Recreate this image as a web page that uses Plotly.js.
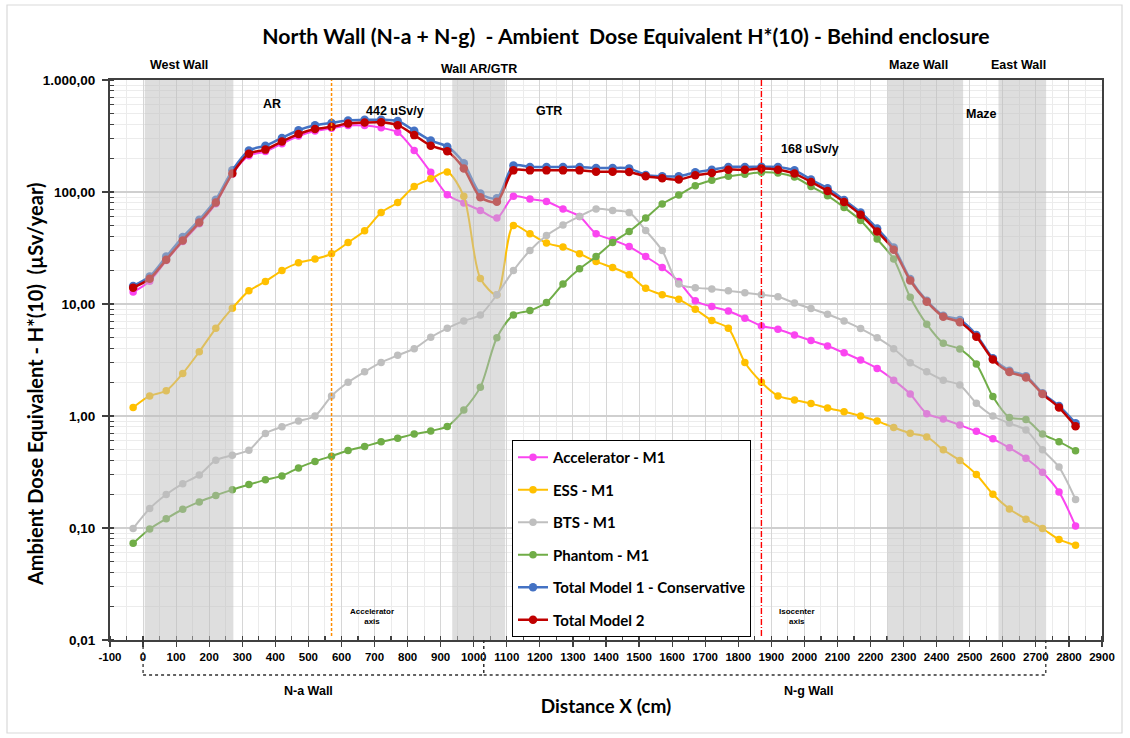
<!DOCTYPE html>
<html>
<head>
<meta charset="utf-8">
<script src="https://cdn.plot.ly/plotly-3.0.1.min.js"></script>
<style>
  html, body { margin: 0; padding: 0; background: #ffffff; }
  #chart { width: 1130px; height: 738px; }
</style>
</head>
<body>
<div id="chart"></div>
<script>
// ---------------- DATA ----------------
const distance = [-30,20,70,120,170,220,270,320,370,420,470,520,570,620,670,720,770,820,870,920,970,1020,1070,1120,1170,1220,1270,1320,1370,1420,1470,1520,1570,1620,1670,1720,1770,1820,1870,1920,1970,2020,2070,2120,2170,2220,2270,2320,2370,2420,2470,2520,2570,2620,2670,2720,2770,2820];

const accelerator = [12.8,16.0,24.4,36.1,52,78.6,145,211,230,270,316,350,371,392,392,374,341,235,150,94.6,79.8,68.5,58.5,91.4,86.5,82.4,70.5,60.5,42.4,37.4,32.6,26.5,21.2,15.9,10.7,9.48,8.67,7.46,6.37,5.95,5.29,4.71,4.22,3.67,3.16,2.66,2.09,1.57,1.05,0.94,0.83,0.73,0.625,0.52,0.42,0.315,0.21,0.104];

const ess = [1.19,1.51,1.68,2.40,3.75,6.07,9.17,13.1,15.9,19.9,23.3,25.2,28.1,35.4,45.1,65.7,80.7,112,131,151,91.4,16.9,12.1,50.3,42.4,35.0,32.2,28.1,23.9,21.2,18.2,13.8,12.1,11.0,8.98,7.11,6.07,3.0,2.0,1.51,1.39,1.29,1.18,1.09,1.0,0.90,0.79,0.70,0.65,0.50,0.40,0.30,0.20,0.148,0.12,0.099,0.079,0.070];

const bts = [0.099,0.149,0.199,0.249,0.298,0.403,0.447,0.495,0.698,0.80,0.90,1.0,1.51,2.0,2.48,3.01,3.48,3.99,5.05,6.07,7.06,7.99,12.1,19.9,30,40.9,50.7,60.5,70.5,68.5,65.7,45.4,30,15.1,14.0,13.6,13.1,12.6,12.1,11.6,10.2,9.1,8.1,7.06,6.03,5.0,3.99,2.99,2.48,2.09,1.89,1.30,1.0,0.86,0.75,0.50,0.35,0.18];

const phantom = [0.073,0.098,0.121,0.147,0.171,0.195,0.220,0.244,0.269,0.292,0.344,0.393,0.438,0.492,0.535,0.588,0.634,0.689,0.736,0.807,1.13,1.81,5.0,7.99,8.73,10.3,15.1,20.6,26.5,35.4,44.4,58.5,78.2,94,114,127,138,144,150,148,136,112,92.7,72.8,55.7,38,25.2,11.5,6.6,4.46,3.96,2.91,1.49,0.97,0.93,0.69,0.59,0.49];

const totalModel1 = [14.5,17.6,26.5,39.6,56.5,85.3,156,235,259,304,356,394,414,434,441,442,430,353,288,254,181,97,88,172,167.5,167.5,167.5,167.5,164,164,162.5,142,138,138,150,158,167.5,167.5,168,167.5,156,129,108,85,65.7,47.2,32,16.7,10.7,7.87,7.21,5.29,3.27,2.54,2.27,1.60,1.23,0.863];

const totalModel2 = [14.0,16.8,24.8,36.9,53.5,80.7,146,220,239,282,329,365,382,408,417,419,395,322,259,231,162,89.8,81.9,156,156,156,156,156,152,152,151,138,133,129,141,148,158,158,162,158,146,123,102,81.4,62.6,44.4,30.5,16.2,10.5,7.71,6.87,5.11,3.19,2.47,2.21,1.57,1.19,0.81];

const seriesNames = ['Accelerator - M1','ESS - M1','BTS - M1','Phantom - M1','Total Model 1 - Conservative','Total Model 2'];

const xTickVals = [-100,0,100,200,300,400,500,600,700,800,900,1000,1100,1200,1300,1400,1500,1600,1700,1800,1900,2000,2100,2200,2300,2400,2500,2600,2700,2800,2900];
const xTickText = ['-100','0','100','200','300','400','500','600','700','800','900','1000','1100','1200','1300','1400','1500','1600','1700','1800','1900','2000','2100','2200','2300','2400','2500','2600','2700','2800','2900'];
const yTickVals = [0.01, 0.1, 1, 10, 100, 1000];
const yTickText = ['0,01','0,10','1,00','10,00','100,00','1.000,00'];

// wall zones (cm) and reference axes (cm)
const wallZones = [[5,273],[935,1095],[2250,2480],[2587,2731]];
const acceleratorAxisX = 570;
const isocenterAxisX = 1870;
const naWall = [0,1030];
const ngWall = [1030,2730];

// ---------------- LAYOUT HELPERS ----------------
const W = 1130, H = 738;
const M = {l:110, r:28, t:80, b:98};
const PW = W - M.l - M.r, PH = H - M.t - M.b;
const px2x = p => (p - M.l) / PW;          // pixel -> paper x
const py2y = p => (M.t + PH - p) / PH;     // pixel -> paper y

const colors = ['#FA45F0','#FFC000','#BFBFBF','#70AD47','#4472C4','#C00000'];
const allY = [accelerator, ess, bts, phantom, totalModel1, totalModel2];

const traces = allY.map((yy, i) => ({
  type: 'scatter',
  mode: 'lines+markers',
  x: distance,
  y: yy,
  name: seriesNames[i],
  legendgroup: 'g' + i,
  line: {color: colors[i], width: i >= 4 ? 2.5 : 2, shape: 'spline', smoothing: 0.8},
  marker: {color: colors[i], size: i >= 4 ? 8.5 : 7.5}
}));

const labelFont = {family: 'Liberation Sans, Arial, sans-serif', size: 12.5, color: '#000', weight: 'bold'};
const smallFont = {family: 'Liberation Sans, Arial, sans-serif', size: 8, color: '#000', weight: 'bold'};

function lab(text, px, py, font) {
  return {text, xref: 'paper', yref: 'paper', x: px2x(px), y: py2y(py),
          xanchor: 'center', yanchor: 'middle', showarrow: false, font: font || labelFont};
}

const annotations = [
  lab('West Wall', 179, 65),
  lab('Wall AR/GTR', 479, 69),
  lab('Maze Wall', 918, 65),
  lab('East Wall', 1018, 65),
  lab('AR', 272, 104),
  lab('442 uSv/y', 395, 111),
  lab('GTR', 549, 111),
  lab('168 uSv/y', 810, 149),
  lab('Maze', 981, 114),
  lab('Accelerator<br>axis', 372, 616, smallFont),
  lab('Isocenter<br>axis', 797, 616, smallFont),
  lab('N-a Wall', 308, 691),
  lab('N-g Wall', 809, 691),
  Object.assign(lab('Ambient Dose Equivalent - H*(10)  (µSv/year)', 35, 385,
        {family: 'Lato, sans-serif', size: 20, color: '#000', weight: 'bold'}), {textangle: -90})
];

const shapes = [];
wallZones.forEach(z => shapes.push({
  type: 'rect', xref: 'x', yref: 'paper', x0: z[0], x1: z[1], y0: 0, y1: 1,
  fillcolor: 'rgba(190,190,190,0.5)', line: {width: 0}, layer: 'above'
}));
shapes.push({type: 'line', xref: 'x', yref: 'paper', x0: acceleratorAxisX, x1: acceleratorAxisX,
  y0: py2y(636), y1: 1, line: {color: '#FF8C00', width: 1.5, dash: '3px,2px'}, layer: 'above'});
shapes.push({type: 'line', xref: 'x', yref: 'paper', x0: isocenterAxisX, x1: isocenterAxisX,
  y0: py2y(636), y1: 1, line: {color: '#FF0000', width: 1.4, dash: '6px,2px,1px,2px'}, layer: 'above'});
// wall brackets under the axis
const brY = py2y(675);
const dashLine = {color: '#303030', width: 1.3, dash: '3px,3px'};
[naWall, ngWall].forEach(w => {
  shapes.push({type: 'line', xref: 'x', yref: 'paper', x0: w[0], x1: w[1], y0: brY, y1: brY, line: dashLine});
  shapes.push({type: 'line', xref: 'x', yref: 'paper', x0: w[0], x1: w[0], y0: 0, y1: brY, line: dashLine});
  shapes.push({type: 'line', xref: 'x', yref: 'paper', x0: w[1], x1: w[1], y0: 0, y1: brY, line: dashLine});
});
// outer chart frame
shapes.push({type: 'rect', xref: 'paper', yref: 'paper', x0: px2x(7), x1: px2x(1122), y0: py2y(733), y1: py2y(5),
  line: {color: '#d9d9d9', width: 1.2}, fillcolor: 'rgba(0,0,0,0)'});

const tickFont = {family: 'Liberation Sans, Arial, sans-serif', size: 11.5, color: '#000', weight: 'bold'};

const layout = {
  width: W, height: H,
  margin: M,
  paper_bgcolor: '#ffffff',
  plot_bgcolor: '#ffffff',
  showlegend: true,
  title: {
    text: 'North Wall (N-a + N-g)  - Ambient  Dose Equivalent H*(10) - Behind enclosure',
    font: {family: 'Lato, sans-serif', size: 21.2, color: '#000', weight: 'bold'},
    x: 626 / W, xanchor: 'center', xref: 'container',
    y: 1 - 37 / H, yanchor: 'middle', yref: 'container'
  },
  xaxis: {
    range: [-100, 2900],
    tickmode: 'array', tickvals: xTickVals, ticktext: xTickText,
    ticks: 'outside', ticklen: 5, tickwidth: 1.2, tickcolor: '#404040',
    showgrid: true, gridcolor: '#d6d6d6', gridwidth: 1,
    minor: {dtick: 50, tick0: 0, showgrid: true, gridcolor: '#ebebeb', ticks: 'inside', ticklen: 4, tickcolor: '#404040'},
    showline: true, linecolor: '#404040', linewidth: 2, mirror: true,
    zeroline: false,
    tickfont: tickFont,
    title: {text: 'Distance X (cm)', font: {family: 'Lato, sans-serif', size: 19, color: '#000', weight: 'bold'}, standoff: 38}
  },
  yaxis: {
    type: 'log',
    range: [-2, 3],
    tickmode: 'array', tickvals: yTickVals, ticktext: yTickText,
    ticks: 'outside', ticklen: 6, tickwidth: 1.2, tickcolor: '#404040',
    ticklabelstandoff: 4,
    showgrid: true, gridcolor: '#cfcfcf', gridwidth: 1.2,
    minor: {dtick: 'D1', showgrid: true, gridcolor: '#ececec', ticks: 'inside', ticklen: 4, tickcolor: '#404040'},
    showline: true, linecolor: '#404040', linewidth: 2, mirror: true,
    zeroline: false,
    tickfont: {family: 'Liberation Sans, Arial, sans-serif', size: 13.5, color: '#000', weight: 'bold'}
  },
  legend: {
    x: px2x(512), y: py2y(440), xanchor: 'left', yanchor: 'top',
    bgcolor: '#ffffff', bordercolor: '#000000', borderwidth: 1,
    font: {family: 'Lato, sans-serif', size: 15, color: '#000', weight: 'bold'},
    tracegroupgap: 10, itemwidth: 30
  },
  annotations: annotations,
  shapes: shapes
};

Plotly.newPlot('chart', traces, layout, {staticPlot: true, displayModeBar: false});
</script>
</body>
</html>
